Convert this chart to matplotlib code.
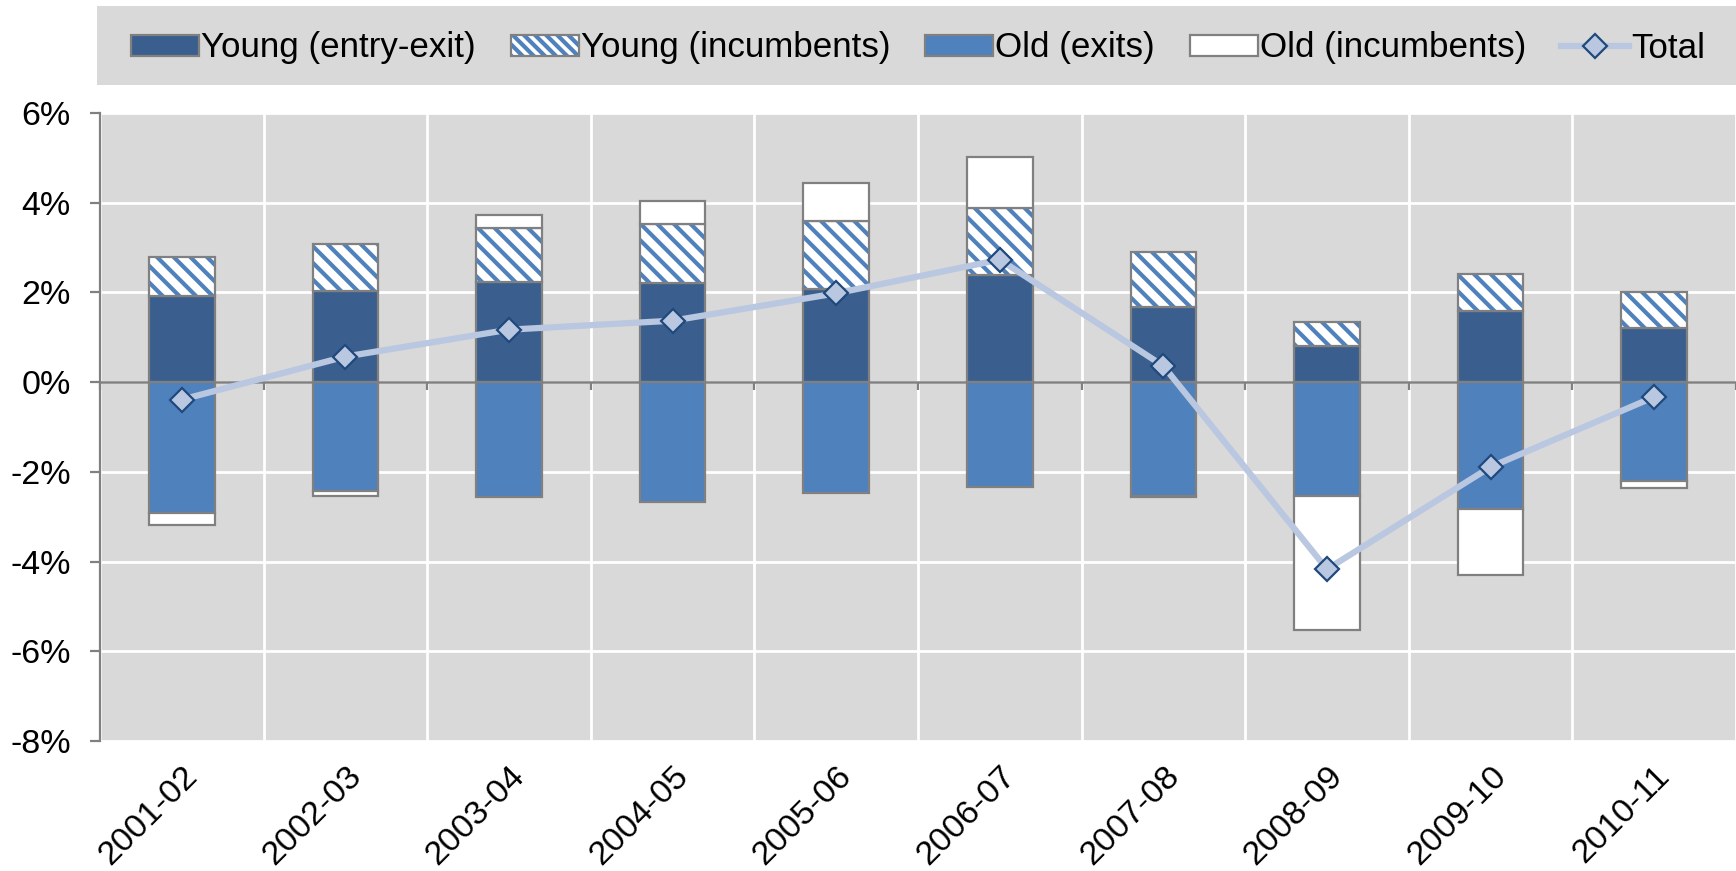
import numpy as np
import matplotlib
matplotlib.use("Agg")
import matplotlib.pyplot as plt
from matplotlib.patches import Patch, Rectangle
from matplotlib.lines import Line2D
from matplotlib.legend_handler import HandlerTuple
from matplotlib.transforms import ScaledTranslation

plt.rcParams['font.family'] = ['Liberation Sans', 'DejaVu Sans']
plt.rcParams['hatch.linewidth'] = 3.0

# data (percent)
categories = ['2001-02', '2002-03', '2003-04', '2004-05', '2005-06',
              '2006-07', '2007-08', '2008-09', '2009-10', '2010-11']
young_entry_exit = [1.93, 2.04, 2.23, 2.21, 2.07, 2.38, 1.67, 0.81, 1.59, 1.21]
young_incumbents = [0.87, 1.04, 1.20, 1.31, 1.53, 1.50, 1.23, 0.52, 0.83, 0.81]
old_exits = [-2.92, -2.42, -2.57, -2.68, -2.47, -2.33, -2.54, -2.54, -2.82, -2.20]
old_incumbents = [-0.26, -0.11, 0.30, 0.52, 0.84, 1.15, -0.03, -2.98, -1.49, -0.17]
total = [-0.39, 0.57, 1.17, 1.37, 1.98, 2.73, 0.36, -4.17, -1.89, -0.33]
y_ticks = [-8, -6, -4, -2, 0, 2, 4, 6]

DARK = '#3A5F8F'
MID = '#4F81BD'
EDGE = '#808080'
BG = '#D9D9D9'
LINE = '#B9C7E0'
MARK_EDGE = '#1F497D'
FS = 24.5

x = np.arange(len(categories))
yee = np.array(young_entry_exit)
yinc = np.array(young_incumbents)
oex = np.array(old_exits)
oinc = np.array(old_incumbents)
inc_bottom = np.where(oinc >= 0, yee + yinc, oex)

fig = plt.figure(figsize=(17.36, 8.71), dpi=100)
ax = fig.add_axes([100 / 1736, 1 - 741 / 871, 1 - 100 / 1736, (741 - 113) / 871])
ax.set_facecolor(BG)

w = 0.4
ax.bar(x, yee, w, color=DARK, edgecolor=EDGE, linewidth=1.6, zorder=3)
ax.bar(x, yinc, w, bottom=yee, color='white', edgecolor=MID, hatch='\\\\',
       linewidth=0, zorder=3)
ax.bar(x, yinc, w, bottom=yee, fill=False, edgecolor=EDGE, linewidth=1.6, zorder=3)
ax.bar(x, oex, w, color=MID, edgecolor=EDGE, linewidth=1.6, zorder=3)
ax.bar(x, oinc, w, bottom=inc_bottom, color='white', edgecolor=EDGE,
       linewidth=1.6, zorder=3)

ax.plot(x, total, color=LINE, lw=4.5, marker='D', ms=12, mfc=LINE,
        mec=MARK_EDGE, mew=1.6, zorder=5)

# axes styling
ax.set_xlim(-0.5, len(categories) - 0.5)
ax.set_ylim(-8, 6)
ax.set_yticks(y_ticks)
ax.set_yticklabels([f"{v}%" for v in y_ticks], fontsize=FS)
ax.set_xticks(x)
ax.set_xticklabels(categories, fontsize=FS, rotation=45, ha='right',
                   rotation_mode='anchor')
shift = ScaledTranslation(-0.09, -0.06, fig.dpi_scale_trans)
for lab in ax.get_xticklabels():
    lab.set_transform(lab.get_transform() + shift)
ax.tick_params(axis='x', length=0, pad=14)
ax.tick_params(axis='y', direction='out', length=7, width=1.6, color=EDGE, pad=14)
bounds = np.arange(len(categories) + 1) - 0.5
ax.set_xticks(bounds, minor=True)
ax.tick_params(axis='x', which='minor', length=0)
ax.grid(True, which='minor', axis='x', color='white', lw=2)
ax.grid(True, which='major', axis='y', color='white', lw=2)
ax.set_axisbelow(True)
for s in ['top', 'right', 'bottom']:
    ax.spines[s].set_visible(False)
ax.spines['left'].set_color(EDGE)
ax.spines['left'].set_linewidth(1.6)
ax.axhline(0, color=EDGE, lw=1.8, zorder=2)
ax.plot(bounds, np.zeros_like(bounds), ls='', marker=3, ms=6, mew=1.6,
        color=EDGE, zorder=2, clip_on=False)

# legend in grey band
fig.patches.append(Rectangle((97 / 1736, 1 - 85 / 871), 1 - 97 / 1736, 79 / 871,
                             transform=fig.transFigure, facecolor=BG,
                             edgecolor='none', zorder=0))
h1 = Patch(facecolor=DARK, edgecolor=EDGE, linewidth=1.6)
h2 = (Patch(facecolor='white', edgecolor=MID, hatch='\\\\\\', linewidth=0),
      Patch(fill=False, edgecolor=EDGE, linewidth=1.6))
h3 = Patch(facecolor=MID, edgecolor=EDGE, linewidth=1.6)
h4 = Patch(facecolor='white', edgecolor=EDGE, linewidth=1.6)
h5 = Line2D([], [], color=LINE, lw=4.5, marker='D', ms=12, mfc=LINE,
            mec=MARK_EDGE, mew=1.6)
fig.legend([h1, h2, h3, h4, h5],
           ['Young (entry-exit)', 'Young (incumbents)', 'Old (exits)',
            'Old (incumbents)', 'Total'],
           loc='center', bbox_to_anchor=(918 / 1736, 1 - 48 / 871), ncol=5,
           frameon=False, fontsize=25.2, handlelength=1.95, handleheight=0.55,
           handletextpad=0.05, columnspacing=1.0,
           handler_map={tuple: HandlerTuple(ndivide=1)})

fig.savefig('out.png', dpi=100)
